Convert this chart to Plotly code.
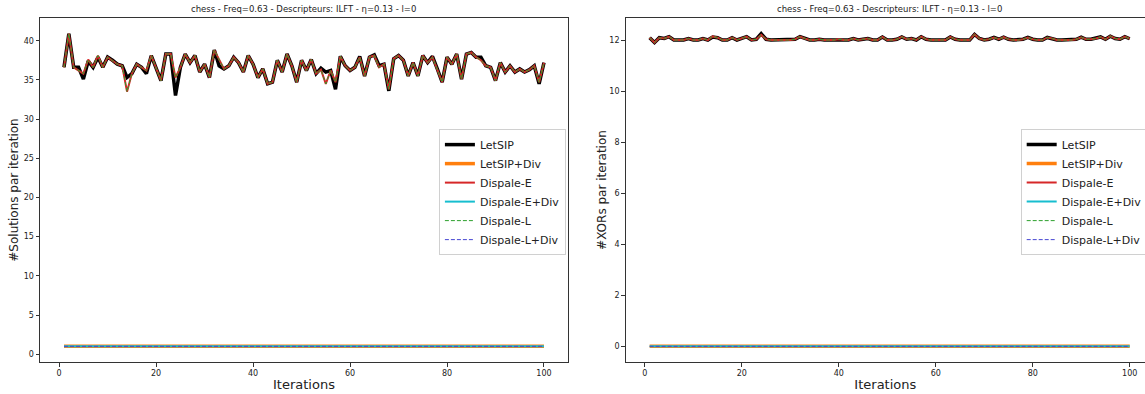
import plotly.graph_objects as go

iterations = list(range(1, 101))

# #Solutions par iteration (panneau de gauche)
sol_dispale_e = [
    36.6, 40.9, 36.6, 36.2, 35.8, 37.6, 36.6, 38.1, 36.6, 37.9,
    37.5, 37.0, 36.8, 33.5, 35.8, 37.0, 36.6, 36.2, 38.1, 36.6,
    34.9, 38.3, 38.3, 35.3, 36.6, 38.3, 37.2, 38.1, 36.0, 37.0,
    35.3, 38.8, 37.5, 36.4, 36.8, 37.9, 37.2, 36.0, 38.1, 37.0,
    35.3, 36.4, 34.5, 34.7, 37.5, 36.0, 38.3, 36.8, 34.7, 37.5,
    36.2, 37.6, 35.8, 36.3, 34.5, 36.2, 34.7, 38.0, 36.8, 36.2,
    36.6, 37.9, 35.5, 37.9, 38.1, 36.6, 37.0, 33.8, 37.7, 38.1,
    37.5, 35.5, 37.2, 35.5, 38.1, 37.2, 37.9, 36.4, 34.7, 37.9,
    37.0, 38.3, 35.1, 38.3, 38.5, 37.9, 37.5, 36.8, 36.6, 34.9,
    37.2, 36.0, 36.8, 36.0, 36.4, 36.0, 36.3, 36.8, 34.7, 37.2,
]
sol_dispale_l = list(sol_dispale_e)
sol_letsip = [
    36.6, 40.9, 36.6, 36.6, 35.1, 37.4, 36.6, 37.9, 36.6, 37.9,
    37.5, 37.0, 36.8, 35.3, 35.8, 37.0, 36.6, 35.8, 38.1, 36.6,
    34.9, 38.3, 38.3, 33.0, 36.6, 38.3, 37.2, 38.1, 36.0, 37.0,
    35.3, 38.8, 36.8, 36.4, 36.8, 37.9, 37.2, 36.0, 38.1, 37.0,
    35.3, 36.4, 34.5, 34.7, 37.5, 36.0, 38.3, 36.8, 34.7, 37.5,
    36.2, 37.6, 35.8, 36.5, 36.0, 36.2, 33.8, 38.0, 36.8, 36.2,
    36.6, 38.0, 35.5, 37.9, 38.2, 36.8, 37.0, 33.6, 37.7, 38.1,
    37.5, 35.5, 37.2, 35.5, 38.1, 37.2, 38.0, 36.4, 34.7, 37.9,
    37.0, 38.3, 35.1, 38.3, 38.5, 37.9, 37.9, 36.8, 36.6, 34.9,
    37.2, 36.0, 36.8, 36.0, 36.4, 36.0, 36.3, 36.8, 34.5, 37.2,
]
sol_letsip_div = [1.0] * 100
sol_dispale_e_div = [1.0] * 100
sol_dispale_l_div = [1.0] * 100

# #XORs par iteration (panneau de droite)
xor_dispale_e = [
    12.09, 11.90, 12.09, 12.06, 12.13, 12.00, 12.00, 12.00, 12.06, 12.00,
    12.00, 12.06, 12.00, 12.14, 12.09, 12.00, 12.00, 12.09, 12.00, 12.06,
    12.13, 12.00, 12.03, 12.20, 12.03, 12.00, 12.00, 12.00, 12.00, 12.00,
    12.03, 12.13, 12.06, 12.00, 12.00, 12.03, 12.00, 12.00, 12.00, 12.03,
    12.00, 12.00, 12.06, 12.00, 12.03, 12.06, 12.00, 12.00, 12.12, 12.00,
    12.00, 12.03, 12.12, 12.03, 12.06, 12.00, 12.13, 12.03, 12.00, 12.00,
    12.00, 12.00, 12.12, 12.03, 12.00, 12.00, 12.00, 12.22, 12.06, 12.00,
    12.03, 12.10, 12.03, 12.11, 12.03, 12.00, 12.00, 12.03, 12.10, 12.03,
    12.00, 12.00, 12.10, 12.06, 12.00, 12.00, 12.00, 12.00, 12.03, 12.11,
    12.03, 12.03, 12.06, 12.12, 12.03, 12.15, 12.06, 12.03, 12.13, 12.05,
]
xor_dispale_l = list(xor_dispale_e)
xor_letsip = list(xor_dispale_e)
xor_letsip[23] = 12.25
xor_letsip[13] = 12.12
xor_letsip_div = [0.0] * 100
xor_dispale_e_div = [0.0] * 100
xor_dispale_l_div = [0.0] * 100

names = ["LetSIP", "LetSIP+Div", "Dispale-E", "Dispale-E+Div", "Dispale-L", "Dispale-L+Div"]
colors = ["#000000", "#ff7f0e", "#d62728", "#17becf", "#2ca02c", "#4646d2"]
widths = [3.5, 3.5, 2.0, 2.0, 1.0, 1.0]
dashes = ["solid", "solid", "solid", "solid", "4px,2px", "4px,2px"]

left_series = [sol_letsip, sol_letsip_div, sol_dispale_e, sol_dispale_e_div, sol_dispale_l, sol_dispale_l_div]
right_series = [xor_letsip, xor_letsip_div, xor_dispale_e, xor_dispale_e_div, xor_dispale_l, xor_dispale_l_div]

title = "chess - Freq=0.63 - Descripteurs: ILFT - η=0.13 - l=0"
FONT = "DejaVu Sans"

fig = go.Figure()
for name, col, w, d, ys in zip(names, colors, widths, dashes, left_series):
    fig.add_trace(go.Scatter(x=iterations, y=ys, mode="lines", name=name,
                             line=dict(color=col, width=w, dash=d),
                             xaxis="x", yaxis="y", legend="legend"))
for name, col, w, d, ys in zip(names, colors, widths, dashes, right_series):
    fig.add_trace(go.Scatter(x=iterations, y=ys, mode="lines", name=name,
                             line=dict(color=col, width=w, dash=d),
                             xaxis="x2", yaxis="y2", legend="legend2"))


def pad(lo, hi):
    m = (hi - lo) * 0.05
    return [lo - m, hi + m]


ymin_l = min(min(s) for s in left_series)
ymax_l = max(max(s) for s in left_series)
ymin_r = min(min(s) for s in right_series)
ymax_r = max(max(s) for s in right_series)
xr = pad(1, 100)
# le panneau de droite est coupé par le bord de l'image
xr2 = [xr[0], xr[0] + (xr[1] - xr[0]) * 519.3 / 528]

axis_common = dict(showline=True, linecolor="#333", linewidth=1, ticks="outside",
                   ticklen=3.5, tickwidth=0.8, tickcolor="#333", showgrid=False,
                   zeroline=False, tickfont=dict(size=8, color="#222", family=FONT))

legend_common = dict(font=dict(size=11, family=FONT, color="#222"), bgcolor="rgba(255,255,255,0.8)",
                     bordercolor="#d0d0d0", borderwidth=1, xanchor="left", yanchor="top",
                     tracegroupgap=0, itemwidth=30)

fig.update_layout(
    width=1145, height=394,
    margin=dict(l=40, r=0, t=18, b=32, autoexpand=False),
    paper_bgcolor="white", plot_bgcolor="white",
    font=dict(family=FONT, color="#222"),
    showlegend=True,
    xaxis=dict(domain=[0, 0.4778], range=xr, tickvals=[0, 20, 40, 60, 80, 100], mirror=True,
               title=dict(text="Iterations", font=dict(size=13), standoff=2), anchor="y", **axis_common),
    yaxis=dict(domain=[0, 1], range=pad(ymin_l, ymax_l), tickvals=list(range(0, 41, 5)), mirror=True,
               title=dict(text="#Solutions par iteration", font=dict(size=12), standoff=2), anchor="x",
               **axis_common),
    xaxis2=dict(domain=[0.530, 1.0], range=xr2, tickvals=[0, 20, 40, 60, 80, 100], mirror=True,
                title=dict(text="Iterations", font=dict(size=13), standoff=2), anchor="y2", **axis_common),
    yaxis2=dict(domain=[0, 1], range=pad(ymin_r, ymax_r), tickvals=list(range(0, 13, 2)), mirror=False,
                title=dict(text="#XORs par iteration", font=dict(size=12), standoff=0), anchor="x2",
                **axis_common),
    legend=dict(x=0.3610, y=0.677, **legend_common),
    legend2=dict(x=0.8875, y=0.677, **legend_common),
    annotations=[
        dict(text=title, x=0.5, xref="x domain", y=1, yref="y domain", yanchor="bottom",
             yshift=2, showarrow=False, font=dict(size=8.5, family=FONT, color="#222")),
        dict(text=title, x=0.5 * 528 / 519.3, xref="x2 domain", y=1, yref="y2 domain", yanchor="bottom",
             yshift=2, showarrow=False, font=dict(size=8.5, family=FONT, color="#222")),
    ],
)

fig.write_html("out.html", config={"displayModeBar": False},
               post_script="document.body.style.margin='0';")
